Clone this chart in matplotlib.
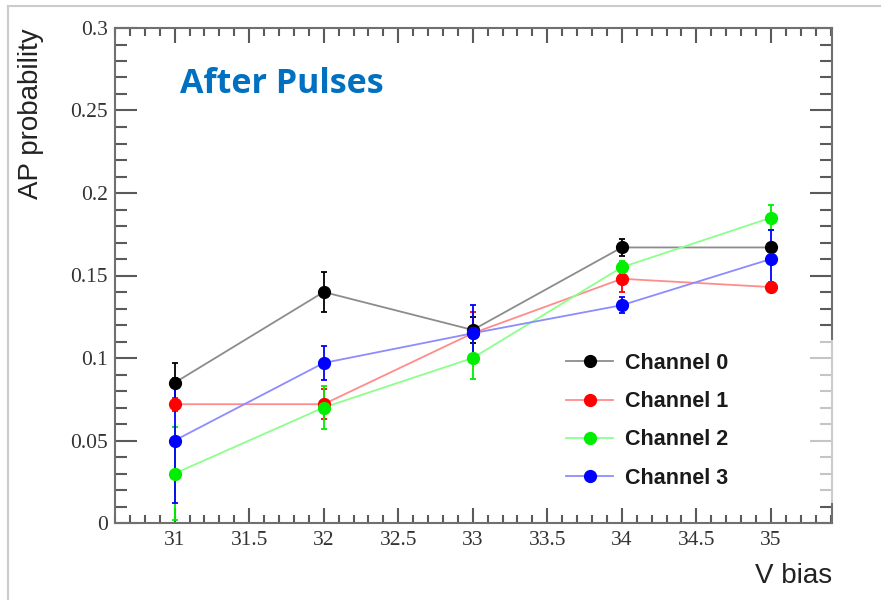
import matplotlib.pyplot as plt
from matplotlib.lines import Line2D
from matplotlib.patches import Rectangle
from matplotlib.ticker import MultipleLocator, FuncFormatter

v_bias = [31, 32, 33, 34, 35]

ch0_ap = [0.085, 0.140, 0.117, 0.167, 0.167]
ch0_err = [0.012, 0.012, 0.008, 0.005, 0.003]
ch1_ap = [0.072, 0.072, 0.115, 0.148, 0.143]
ch1_err = [0.004, 0.009, 0.013, 0.008, 0.003]
ch2_ap = [0.030, 0.070, 0.100, 0.155, 0.185]
ch2_err = [0.028, 0.013, 0.013, 0.004, 0.0077]
ch3_ap = [0.050, 0.097, 0.115, 0.132, 0.160]
ch3_err = [0.038, 0.0105, 0.017, 0.005, 0.0175]

labels = ["Channel 0", "Channel 1", "Channel 2", "Channel 3"]
marker_colors = ["black", "#ff0000", "#00ee00", "#0000ff"]
line_colors = ["#8c8c8c", "#ff8c8c", "#8cff8c", "#8c8cff"]

fig = plt.figure(figsize=(8.81, 6.0), dpi=100)
ax = fig.add_axes([115 / 881, 77 / 600, 717 / 881, 495 / 600])

series = [(ch0_ap, ch0_err), (ch1_ap, ch1_err), (ch2_ap, ch2_err), (ch3_ap, ch3_err)]

# connecting lines first, then points with error bars on top
for (ap, err), lc in zip(series, line_colors):
    ax.plot(v_bias, ap, color=lc, lw=1.3, zorder=2)
for (ap, err), mc in zip(series, marker_colors):
    ax.errorbar(v_bias, ap, yerr=err, fmt="o", color=mc, ms=8.5,
                elinewidth=1.3, capsize=2, capthick=1.3, zorder=3)

ax.set_xlim(30.6, 35.41)
ax.set_ylim(0, 0.3)

ax.xaxis.set_major_locator(MultipleLocator(0.5))
ax.xaxis.set_minor_locator(MultipleLocator(0.1))
ax.yaxis.set_major_locator(MultipleLocator(0.05))
ax.yaxis.set_minor_locator(MultipleLocator(0.01))
ax.yaxis.set_major_formatter(FuncFormatter(lambda v, p: f"{v:.2f}".rstrip("0").rstrip(".")))
ax.xaxis.set_major_formatter(FuncFormatter(lambda v, p: f"{v:.1f}".rstrip("0").rstrip(".")))

tick_col = "#5a5a5a"
ax.tick_params(axis="both", which="both", direction="in", top=True, right=True,
               color=tick_col, width=1.5, labelcolor="#333333")
ax.tick_params(axis="x", which="major", length=11, pad=6)
ax.tick_params(axis="x", which="minor", length=5.5)
ax.tick_params(axis="y", which="major", length=16, pad=5)
ax.tick_params(axis="y", which="minor", length=8.5)
for lab in ax.get_xticklabels() + ax.get_yticklabels():
    lab.set_fontfamily("Liberation Serif")
    lab.set_fontsize(15.5)
for sp in ax.spines.values():
    sp.set_color("#707070")
    sp.set_linewidth(1.5)

handles = [Line2D([], [], color=lc, lw=1.3, marker="o", ms=8.5, mfc=mc, mec=mc)
           for lc, mc in zip(line_colors, marker_colors)]
leg = ax.legend(handles, labels, loc="upper left", bbox_to_anchor=(566 / 881, 1 - 353 / 600),
                bbox_transform=fig.transFigure, frameon=False, borderpad=0, borderaxespad=0,
                handlelength=2.2, handletextpad=0.55, labelspacing=0.8,
                prop={"family": "Liberation Sans", "weight": "bold", "size": 15.5})
for t in leg.get_texts():
    t.set_color("#1a1a1a")

# legend box hides the right frame ticks like the original
ax.add_patch(Rectangle((0.85, 0.04), 0.16, 0.33, transform=ax.transAxes,
                       facecolor="white", edgecolor="none", alpha=0.65,
                       clip_on=False, zorder=5))

fig.text(180 / 881, 1 - 93 / 600, "After Pulses", color="#0070c0",
         fontsize=24.5, fontweight="bold", family="Open Sans", va="baseline", ha="left")
fig.text(31 / 881, 1 - 28 / 600, "AP probability", rotation=90, ha="center", va="top",
         fontsize=20, family="Liberation Sans", color="#222222")
fig.text(832 / 881, 1 - 583 / 600, "V bias", ha="right", va="baseline",
         fontsize=20, family="Liberation Sans", color="#222222")

# thin frame lines of the slide at top and left
fig.add_artist(Line2D([8 / 881, 1], [1 - 6 / 600, 1 - 6 / 600], transform=fig.transFigure,
                      color="#cccccc", lw=1.5))
fig.add_artist(Line2D([8 / 881, 8 / 881], [0, 1 - 6 / 600], transform=fig.transFigure,
                      color="#cccccc", lw=1.5))

fig.savefig("out.png", dpi=100)
